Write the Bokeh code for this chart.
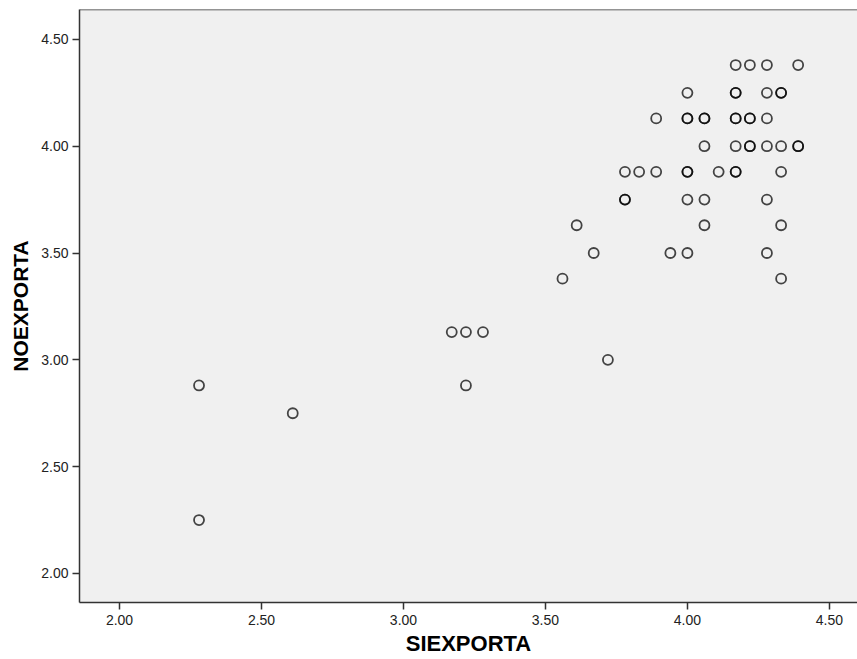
from bokeh.plotting import figure
from bokeh.models import Range1d, FixedTicker, Span
from bokeh.embed import file_html
from bokeh.resources import INLINE

# Data (duplicates listed twice -> darker rings)
siexporta = [
    4.17, 4.22, 4.28, 4.39,
    4.00, 4.17, 4.17, 4.28, 4.33, 4.33,
    3.89, 4.00, 4.00, 4.06, 4.06, 4.17, 4.17, 4.22, 4.22, 4.28,
    4.06, 4.17, 4.22, 4.22, 4.28, 4.33, 4.39, 4.39,
    3.78, 3.83, 3.89, 4.00, 4.00, 4.11, 4.17, 4.17, 4.33,
    3.78, 3.78, 4.00, 4.06, 4.28,
    3.61, 4.06, 4.33,
    3.67, 3.94, 4.00, 4.28,
    3.56, 4.33,
    3.17, 3.22, 3.28,
    3.72,
    2.28, 3.22,
    2.61,
    2.28,
]
noexporta = [
    4.38, 4.38, 4.38, 4.38,
    4.25, 4.25, 4.25, 4.25, 4.25, 4.25,
    4.13, 4.13, 4.13, 4.13, 4.13, 4.13, 4.13, 4.13, 4.13, 4.13,
    4.00, 4.00, 4.00, 4.00, 4.00, 4.00, 4.00, 4.00,
    3.88, 3.88, 3.88, 3.88, 3.88, 3.88, 3.88, 3.88, 3.88,
    3.75, 3.75, 3.75, 3.75, 3.75,
    3.63, 3.63, 3.63,
    3.50, 3.50, 3.50, 3.50,
    3.38, 3.38,
    3.13, 3.13, 3.13,
    3.00,
    2.88, 2.88,
    2.75,
    2.25,
]

x_ticks = [2.0, 2.5, 3.0, 3.5, 4.0, 4.5]
y_ticks = [2.0, 2.5, 3.0, 3.5, 4.0, 4.5]
x_tick_labels = ["2.00", "2.50", "3.00", "3.50", "4.00", "4.50"]
y_tick_labels = ["2.00", "2.50", "3.00", "3.50", "4.00", "4.50"]

FONT = "Liberation Sans"

p = figure(width=857, height=659, output_backend="svg", toolbar_location=None,
           x_range=Range1d(1.859, 4.599), y_range=Range1d(1.864, 4.64),
           min_border_left=79, min_border_right=0, min_border_top=9, min_border_bottom=57)

p.background_fill_color = "#F0F0F0"
p.border_fill_color = "white"
p.outline_line_color = None
p.xgrid.visible = False
p.ygrid.visible = False

top_line = Span(location=4.64, dimension="width", line_color="#333333", line_width=1.5)
p.add_layout(top_line)

p.scatter(siexporta, noexporta, marker="circle", size=10, fill_color=None,
          line_color="black", line_alpha=0.72, line_width=1.8)

for ax, ticks, labels in ((p.xaxis[0], x_ticks, x_tick_labels), (p.yaxis[0], y_ticks, y_tick_labels)):
    ax.ticker = FixedTicker(ticks=ticks)
    ax.major_label_overrides = {t: l for t, l in zip(ticks, labels)}
    ax.minor_tick_line_color = None
    ax.major_tick_in = 0
    ax.major_tick_out = 7
    ax.major_tick_line_width = 1.5
    ax.major_tick_line_color = "#333333"
    ax.axis_line_color = "#333333"
    ax.axis_line_width = 1.5
    ax.major_label_text_font = FONT
    ax.major_label_text_font_size = "14px"
    ax.major_label_text_color = "#222222"
    ax.axis_label_text_font = FONT
    ax.axis_label_text_font_style = "bold"
    ax.axis_label_text_color = "black"

p.xaxis.axis_label = "SIEXPORTA"
p.yaxis.axis_label = "NOEXPORTA"
p.xaxis.axis_label_text_font_size = "22px"
p.yaxis.axis_label_text_font_size = "21px"
p.xaxis.major_label_standoff = 5
p.xaxis.axis_label_standoff = 3
p.yaxis.major_label_standoff = 4
p.yaxis.axis_label_standoff = 6

open("out.html", "w").write(file_html(p, INLINE))
